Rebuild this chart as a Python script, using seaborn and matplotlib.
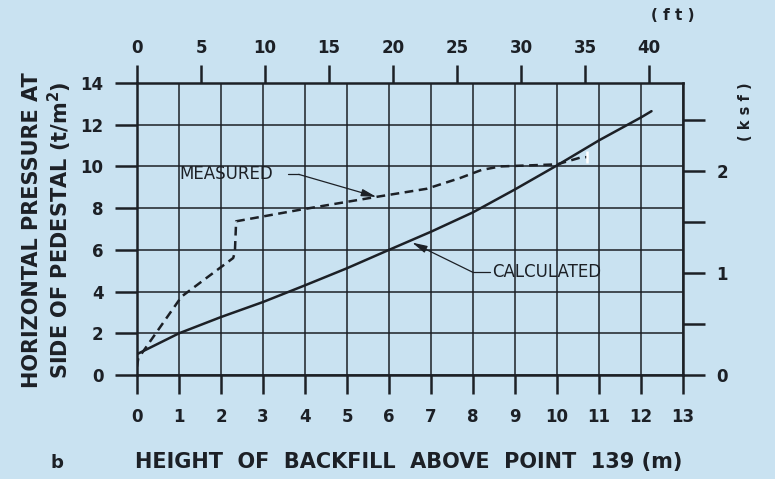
# Horizontal pressure on pedestal vs. height of backfill
import numpy as np
import pandas as pd
import matplotlib
matplotlib.use("Agg")
import matplotlib.pyplot as plt
import seaborn as sns

# Data
calc_height = [0, 1, 2, 3, 4, 5, 6, 7, 8, 9, 10, 11, 12, 12.25]
calc_pressure = [1.0, 2.0, 2.78, 3.5, 4.3, 5.12, 6.0, 6.87, 7.8, 8.9, 10.05, 11.25, 12.35, 12.65]

meas_height = [0, 0.03, 1.06, 2.29, 2.33, 2.36, 3.9, 5.7, 6.9, 7.7, 8.2, 8.65, 10.0, 10.55, 10.72]
meas_pressure = [0.4, 0.8, 3.76, 5.61, 5.9, 7.37, 7.93, 8.54, 8.93, 9.45, 9.83, 10.0, 10.1, 10.42, 10.45]

m_ticks = list(range(0, 14))
t_ticks = list(range(0, 15, 2))
ft_ticks = list(range(0, 45, 5))
ksf_ticks = [0, 0.5, 1, 1.5, 2, 2.5]
ksf_labels = ["0", "", "1", "", "2", ""]

M_TO_FT = 3.28084
T_TO_KSF = 0.204816

bg = "#c9e2f1"
ink = "#1c2026"

sns.set_style("ticks")
plt.rcParams["font.family"] = ["DejaVu Sans"]
plt.rcParams["font.weight"] = "bold"

fig = plt.figure(figsize=(7.75, 4.79), dpi=100)
fig.patch.set_facecolor(bg)
ax = fig.add_axes([0.1768, 0.2171, 0.7045, 0.6096])
ax.set_facecolor(bg)

calc = pd.DataFrame({"h": calc_height, "p": calc_pressure})
meas = pd.DataFrame({"h": meas_height, "p": meas_pressure})

sns.lineplot(data=calc, x="h", y="p", ax=ax, sort=False, estimator=None,
             color=ink, linewidth=1.8)
sns.lineplot(data=meas, x="h", y="p", ax=ax, sort=False, estimator=None,
             color=ink, linewidth=1.8, dashes=False)
meas_line = ax.lines[-1]
meas_line.set_dashes([3.5, 2.2])
meas_line.set_marker("|")
meas_line.set_markevery([len(meas_height) - 1])
meas_line.set_markersize(9)
meas_line.set_markeredgewidth(1.8)

ax.set_xlim(0, 13)
ax.set_ylim(0, 14)
ax.set_xticks(m_ticks)
ax.set_yticks(t_ticks)
ax.grid(True, color=ink, linewidth=1.1)
ax.set_axisbelow(True)
for s in ax.spines.values():
    s.set_visible(True)
    s.set_color(ink)
    s.set_linewidth(1.8)
ax.tick_params(axis="x", direction="out", length=14, width=1.8, pad=10,
               labelsize=12, colors=ink)
ax.tick_params(axis="y", direction="out", length=16, width=1.8, pad=8,
               labelsize=12, colors=ink)
ax.set_xlabel("")
ax.set_ylabel("")

# secondary axes in imperial units
top = ax.secondary_xaxis("top", functions=(lambda m: m * M_TO_FT, lambda f: f / M_TO_FT))
top.set_xticks(ft_ticks)
top.tick_params(direction="out", length=13, width=1.8, pad=6, labelsize=12, colors=ink)
top.spines["top"].set_visible(False)

right = ax.secondary_yaxis("right", functions=(lambda t: t * T_TO_KSF, lambda k: k / T_TO_KSF))
right.set_yticks(ksf_ticks)
right.set_yticklabels(ksf_labels)
right.tick_params(direction="out", length=16, width=1.8, pad=8, labelsize=12, colors=ink)
right.spines["right"].set_visible(False)

# labels
fig.text(0.0413, 0.52, "HORIZONTAL PRESSURE AT", rotation=90, ha="center", va="center",
         fontsize=15, color=ink)
fig.text(0.0775, 0.52, "SIDE OF PEDESTAL (t/m$^\\mathbf{2}$)", rotation=90, ha="center", va="center",
         fontsize=15, color=ink)
fig.text(0.527, 0.035, "HEIGHT  OF  BACKFILL  ABOVE  POINT  139 (m)", ha="center", va="center",
         fontsize=15, color=ink)
fig.text(0.074, 0.033, "b", ha="center", va="center", fontsize=13, color=ink)
fig.text(0.868, 0.968, "( f t )", ha="center", va="center", fontsize=11, color=ink)
fig.text(0.962, 0.767, "( k s f )", rotation=90, ha="center", va="center", fontsize=10.5, color=ink)

# annotations
ax.text(1.0, 9.62, "MEASURED", ha="left", va="center", fontsize=12, color=ink,
        fontweight="normal")
ax.plot([3.6, 3.85], [9.62, 9.62], color=ink, linewidth=0.9)
ax.annotate("", xy=(5.7, 8.54), xytext=(3.85, 9.62),
            arrowprops=dict(arrowstyle="-|>,head_length=0.9,head_width=0.22",
                            color=ink, linewidth=0.9, shrinkA=0, shrinkB=0))

ax.text(8.45, 4.92, "CALCULATED", ha="left", va="center", fontsize=12, color=ink,
        fontweight="normal")
ax.plot([8.0, 8.4], [4.92, 4.92], color=ink, linewidth=0.9)
ax.annotate("", xy=(6.55, 6.35), xytext=(8.0, 4.92),
            arrowprops=dict(arrowstyle="-|>,head_length=0.9,head_width=0.22",
                            color=ink, linewidth=0.9, shrinkA=0, shrinkB=0))

fig.savefig("out.png", dpi=100, facecolor=bg)
